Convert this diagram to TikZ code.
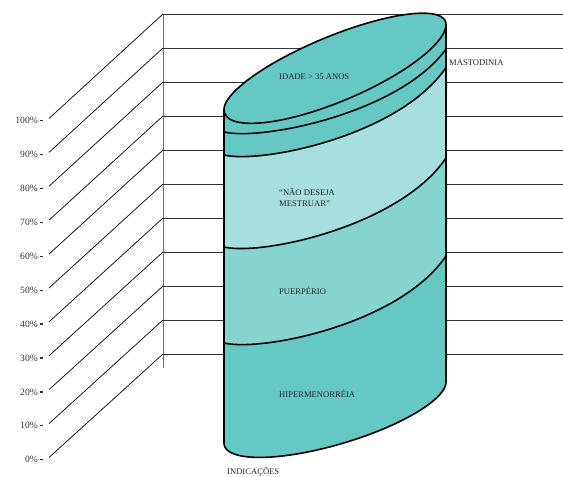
\documentclass[tikz,border=0pt]{standalone}
\usepackage{fontspec}
\setmainfont{Liberation Serif}
\definecolor{tealdark}{RGB}{102,200,196}
\definecolor{tealmid}{RGB}{133,212,207}
\definecolor{teallight}{RGB}{166,223,221}

\begin{document}
\begin{tikzpicture}[x = 1pt, y = -1pt,
		lab/.style = {inner sep = 0pt, anchor = base west, text = black!85, font = \fontsize{8.6}{10}\selectfont},
		axlab/.style = {inner sep = 0pt, anchor = east, text = black!80, font = \fontsize{9.6}{11}\selectfont},
		grid/.style = {black!80, line width = 0.8pt},
		rim/.style = {black, line width = 1.6pt, line join = round}]
		\useasboundingbox (0, 0) rectangle (563, 477);
		%%%%%%%%%%%%% walls
		\coordinate (w0) at (163, 14); \coordinate (w1) at (163, 368);
		\draw [black!55, line width = 0.9pt] (w0) to (w1);
		\foreach \k in {0, ..., 10} {
			\pgfmathsetmacro{\yf}{457.5 - 33.9*\k}
			\pgfmathsetmacro{\yb}{354 - 34*\k}
			\pgfmathtruncatemacro{\pct}{10*\k}
			\coordinate (f\k) at (49, \yf);
			\coordinate (g\k) at (163, \yb);
			\coordinate (h\k) at (563, \yb);
			\draw [grid] (g\k) to (h\k);
			\draw [black, line width = 0.7pt] (f\k) to (g\k);
			\node [axlab] (p\k) at (38, \yf + 2.2) {\pct\%};
			\draw [black!80, line width = 1.3pt] ([xshift = 1.5pt] p\k.east) -- ++(3.5, 0);
		}
		%%%%%%%%%%%%% cylinder
		\coordinate (tl) at (224, 109.5); \coordinate (tr) at (446, 24.5);
		\coordinate (bl) at (224, 443); \coordinate (br) at (446, 382);
		\coordinate (b1l) at (224, 132); \coordinate (b1r) at (446, 49);
		\coordinate (b2l) at (224, 155); \coordinate (b2r) at (446, 67.5);
		\coordinate (b3l) at (224, 247); \coordinate (b3r) at (446, 158);
		\coordinate (b4l) at (224, 343); \coordinate (b4r) at (446, 256);
		\fill [tealdark] (tl) -- (bl) -- plot [domain = 180:0, samples = 50] ({335 + 111*cos(\x)}, {412.5 - 30.5*cos(\x) + 33*sin(\x)}) -- (tr) -- cycle;
		\fill [teallight] (b2l) .. controls +(38, 9) and +(-46, 68) .. (b2r) -- (br) -- plot [domain = 0:180, samples = 50] ({335 + 111*cos(\x)}, {412.5 - 30.5*cos(\x) + 33*sin(\x)}) -- cycle;
		\fill [tealmid] (b3l) .. controls +(38, 9) and +(-46, 68) .. (b3r) -- (br) -- plot [domain = 0:180, samples = 50] ({335 + 111*cos(\x)}, {412.5 - 30.5*cos(\x) + 33*sin(\x)}) -- cycle;
		\fill [tealdark] (b4l) .. controls +(38, 9) and +(-46, 68) .. (b4r) -- (br) -- plot [domain = 0:180, samples = 50] ({335 + 111*cos(\x)}, {412.5 - 30.5*cos(\x) + 33*sin(\x)}) -- cycle;
		\draw [rim] (tl) -- (bl) -- plot [domain = 180:0, samples = 50] ({335 + 111*cos(\x)}, {412.5 - 30.5*cos(\x) + 33*sin(\x)}) -- (tr);
		\draw [rim] (b1l) .. controls +(38, 9) and +(-46, 64) .. (b1r);
		\draw [rim] (b2l) .. controls +(38, 9) and +(-46, 68) .. (b2r);
		\draw [rim] (b3l) .. controls +(38, 9) and +(-46, 68) .. (b3r);
		\draw [rim] (b4l) .. controls +(38, 9) and +(-46, 68) .. (b4r);
		\filldraw [rim, fill = tealdark] plot [domain = 0:180, samples = 60] ({335 + 111*cos(\x)}, {67 - 42.5*cos(\x) + 37*sin(\x)}) -- plot [domain = 180:360, samples = 60] ({335 + 111*cos(\x)}, {67 - 42.5*cos(\x) + 33*sin(\x)}) -- cycle;
		%%%%%%%%%%%%% labels
		\node [lab] (idade) at (279, 79.5) {IDADE > 35 ANOS};
		\node [lab] (masto) at (449, 65.3) {MASTODINIA};
		\node [lab] (deseja) at (279, 195.3) {“NÃO DESEJA};
		\node [lab] (mestr) at (279, 206.3) {MESTRUAR”};
		\node [lab] (puerp) at (279, 294) {PUERPÉRIO};
		\node [lab] (hiper) at (279, 397) {HIPERMENORRÉIA};
		\node [lab] (indic) at (227, 474) {INDICAÇÕES};
\end{tikzpicture}
\end{document}
